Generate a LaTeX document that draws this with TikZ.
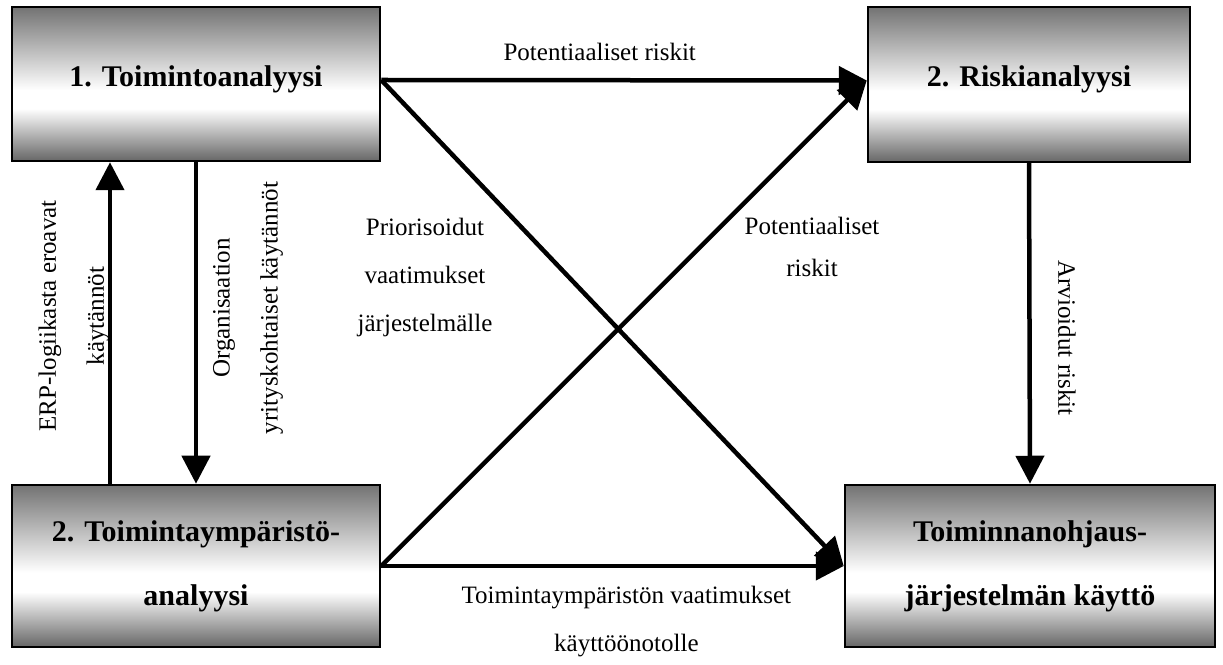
\documentclass[tikz,border=0pt]{standalone}
\usepackage{fontspec}
\setmainfont{Liberation Serif}
\usepackage{tikz}
\usetikzlibrary{arrows.meta,positioning}
\pgfdeclareverticalshading{boxshade}{100bp}{color(0bp)=(black!60); color(25bp)=(black!60); color(42bp)=(white); color(48bp)=(white); color(75bp)=(black!55); color(100bp)=(black!55)}

\begin{document}
\begin{tikzpicture}[x=1pt,y=1pt,
  b/.style={draw=black,line width=2.5pt,shade,shading=boxshade,inner sep=0pt,align=center,font=\bfseries\fontsize{30}{64}\selectfont},
  lbl/.style={align=center,inner sep=0pt,font=\fontsize{25}{48}\selectfont},
  ar/.style={-{Triangle[length=28pt,width=28pt]},line width=4.5pt}]
\useasboundingbox (0,0) rectangle (1223,664);
\node[b,minimum width=368pt,minimum height=154pt] (toim) at (196,580) {\raisebox{16pt}{1. Toimintoanalyysi}};
\node[b,minimum width=368pt,minimum height=162pt] (ymp) at (196,98) {2. Toimintaympäristö-\\analyysi};
\node[b,minimum width=322pt,minimum height=155pt] (riski) at (1029,579.5) {\raisebox{16pt}{2. Riskianalyysi}};
\node[b,minimum width=370pt,minimum height=162pt] (kaytto) at (1030,98) {Toiminnanohjaus-\\järjestelmän käyttö};
\draw[ar] ([xshift=-86pt]ymp.north) -- ([xshift=-86pt]toim.south);
\draw[ar] (toim.south) -- (ymp.north);
\draw[ar] ([yshift=4pt]toim.east) -- node[lbl,above=17pt,pos=0.45] (potrisk) {Potentiaaliset riskit} ([yshift=4pt]riski.west);
\draw[ar] ([yshift=4pt]toim.east) -- (kaytto.west);
\draw[ar] (ymp.east) -- ([yshift=4pt]riski.west);
\draw[ar] (ymp.east) -- node[lbl,below=18pt,pos=0.53] (ympvaat) {Toimintaympäristön vaatimukset\\käyttöönotolle} (kaytto.west);
\draw[ar] (riski.south) -- (kaytto.north);
\node[lbl,rotate=90] (erp) at (74,348) {ERP-logiikasta eroavat\\käytännöt};
\node[lbl,rotate=90] (org) at (248,356) {Organisaation\\yrityskohtaiset käytännöt};
\node[lbl] (prior) at (425,387) {Priorisoidut\\vaatimukset\\järjestelmälle};
\node[lbl,font=\fontsize{25}{42}\selectfont] (potdiag) at (812,417) {Potentiaaliset\\riskit};
\node[lbl,rotate=-90] (arv) at (1067,326) {Arvioidut riskit};
\end{tikzpicture}
\end{document}
